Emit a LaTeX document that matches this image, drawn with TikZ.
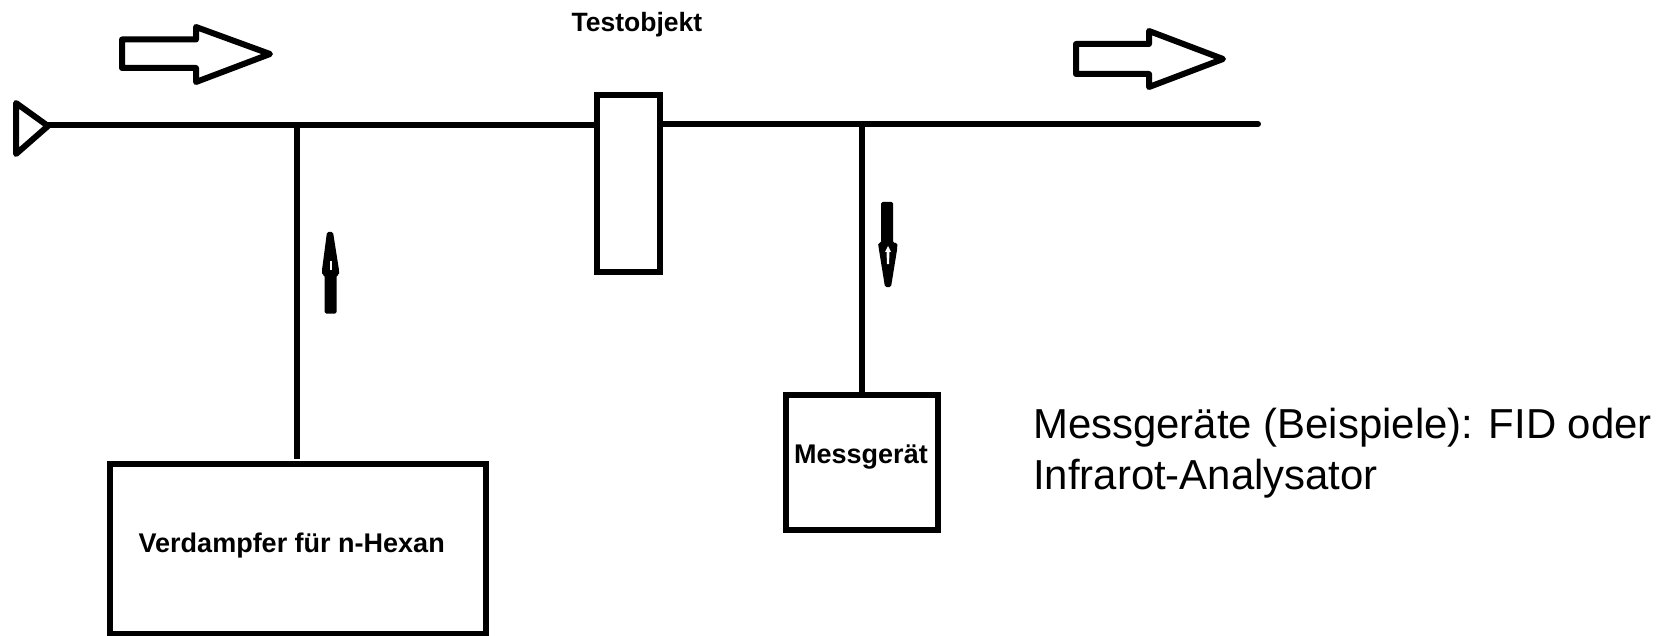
\documentclass[tikz,border=0pt]{standalone}
\usepackage{fontspec}
\setmainfont{Liberation Sans}
\begin{document}
\begin{tikzpicture}[x=1pt,y=-1pt,
  pipe/.style={line width=6pt,line cap=butt},
  boxnode/.style={draw=black,line width=6pt,fill=white,outer sep=0pt,inner sep=0pt},
  outline/.style={draw=black,line width=6pt,fill=white,line join=round},
  boldlabel/.style={font=\fontsize{27}{32}\selectfont\bfseries,anchor=base west,inner sep=0pt},
  notelabel/.style={font=\fontsize{41.9}{50}\selectfont,anchor=base west,inner sep=0pt}]
\useasboundingbox (0,0) rectangle (1669,636);
% boxes
\node[boxnode,minimum width=63pt,minimum height=177pt] (testobj) at (628.5,183.5) {};
\node[boxnode,minimum width=376pt,minimum height=170pt] (verd) at (298,549) {};
\node[boxnode,minimum width=152pt,minimum height=135pt] (mess) at (862,462.5) {};
% free ends and junctions
\coordinate (inlet) at (48,125.5);
\coordinate (outlet) at (1258,124);
\coordinate (j1) at (297,125.5);
\coordinate (j2) at (861.5,124);
\coordinate (verdend) at (297,459);
% pipes
\draw[pipe] (inlet) -- (testobj.west |- inlet);
\draw[pipe,line cap=round] (testobj.east |- outlet) -- (outlet);
\draw[pipe] (j1) -- (verdend);
\draw[pipe] (j2) -- (j2 |- mess.north);
% inlet triangle
\draw[outline] (16,103) -- (48,126) -- (16,154) -- cycle;
% flow arrows
\draw[outline] (122,39.5) -- (196,39.5) -- (196,27) -- (270,54) -- (196,82) -- (196,68) -- (122,68) -- cycle;
\draw[outline] (1076,44) -- (1149,44) -- (1149,31) -- (1223,59) -- (1149,87) -- (1149,74) -- (1076,74) -- cycle;
% small up arrow
\fill[black,rounded corners=1.5pt] (327,232) -- (333,232) -- (339,270) -- (339,275) -- (336.5,275) -- (336.5,313.5) -- (324.5,313.5) -- (324.5,275) -- (322,275) -- (322,270) -- cycle;
\fill[white] (329.5,270) -- (331.5,270) -- (331.5,261) -- (329.5,261) -- cycle;
% small down arrow
\fill[black,rounded corners=1.5pt] (881,202) -- (893,202) -- (893,243) -- (897.5,243) -- (897,250) -- (891,287) -- (885,287) -- (879,250) -- (878,243) -- (881,243) -- cycle;
\fill[white] (887,264) -- (889,264) -- (889.5,252) -- (891,252) -- (888,246) -- (885,252) -- (886.5,252) -- cycle;
% labels
\node[boldlabel,font=\fontsize{26.5}{32}\selectfont\bfseries] (ltest) at (571.5,32) {Testobjekt};
\node[boldlabel] (lverd) at (138.5,552) {Verdampfer für n-Hexan};
\node[boldlabel] (lmess) at (794,463) {Messgerät};
\node[notelabel] (note1) at (1033,438) {Messgeräte (Beispiele): FID oder};
\node[notelabel] (note2) at (1033,489) {Infrarot-Analysator};
\end{tikzpicture}
\end{document}
